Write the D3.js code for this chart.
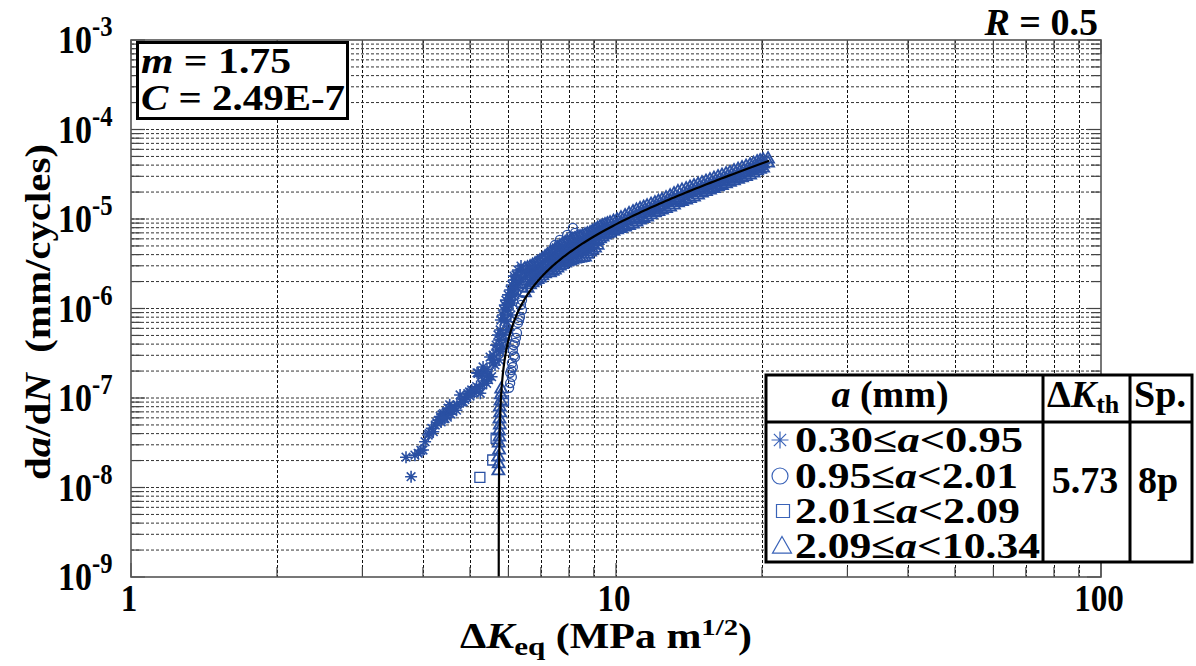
<!DOCTYPE html>
<html><head><meta charset="utf-8">
<script src="https://cdn.jsdelivr.net/npm/d3@7"></script>
<style>
body{margin:0;background:#fff}
svg{display:block}
text{font-family:"Liberation Serif","Times New Roman",serif;font-weight:bold;fill:#000}
</style>
</head><body>
<svg id="chart" width="1196" height="666"></svg>
<script>
// ---------- data ----------
const xTickValues = [1, 10, 100];
const xTickLabels = ["1", "10", "100"];
const yExponents = [-9, -8, -7, -6, -5, -4, -3];
const fitM = 1.75, fitC = 2.49e-7, dKth = 5.73;
const rLabel = "0.5";
const rangeLow = ["0.30", "0.95", "2.01", "2.09"];
const rangeHigh = ["0.95", "2.01", "2.09", "10.34"];
const specimen = "8p";

// 0.30 <= a < 0.95  (asterisk)
const asteriskPts = [
  [3.78,1.32e-8],[3.69,2.18e-8],[3.91,2.41e-8],[4.00,2.62e-8],[4.04,3.25e-8],[4.10,3.86e-8],
  [4.17,4.58e-8],[4.24,4.99e-8],[4.30,5.6e-8],[4.34,6.2e-8],[4.41,6.7e-8],[4.44,5.9e-8],
  [4.51,7.7e-8],[4.54,8.4e-8],[4.47,7.0e-8],[4.38,6.5e-8],[4.60,7.2e-8],[4.69,7.3e-8],
  [4.64,8.0e-8],[4.77,1.08e-7],[4.84,9.1e-8],[4.92,1.03e-7],[4.88,9.6e-8],[5.04,1.23e-7],
  [5.10,1.15e-7],[5.16,1.34e-7],[5.25,1.13e-7],[5.30,1.40e-7],[5.41,1.46e-7],[5.20,1.89e-7],
  [5.37,1.97e-7],[5.54,1.73e-7],[5.46,1.60e-7],[4.57,6.6e-8],[4.49,6.1e-8],[4.36,5.4e-8],
  [4.95,1.12e-7],[5.00,1.05e-7],[4.20,4.2e-8],[4.27,5.3e-8],[4.42,6.0e-8],[4.55,7.4e-8],
  [4.70,8.4e-8],[4.80,9.0e-8],[4.99,1.17e-7],[5.12,1.25e-7],[5.22,1.28e-7],[5.35,1.55e-7],
  [5.44,1.80e-7],[5.28,1.75e-7],[4.12,4.0e-8],[3.96,2.6e-8],[3.85,2.3e-8],
  [5.17,1.91e-7],[5.32,2.22e-7],[5.42,2.06e-7],[5.50,2.87e-7],[5.58,2.46e-7],[5.58,2.66e-7],
  [5.68,3.44e-7],[5.63,2.34e-7],[5.74,2.66e-7],[5.74,4.45e-7],[5.82,3.91e-7],[5.77,5.75e-7],
  [5.85,5.06e-7],[5.79,7.44e-7],[5.90,7.44e-7],[5.85,8.46e-7],[5.96,5.75e-7],[5.87,9.62e-7],
  [5.99,9.62e-7],[5.90,1.09e-6],[5.93,1.24e-6],[6.05,1.24e-6],[5.99,1.42e-6],[6.10,1.42e-6],
  [6.05,1.61e-6],[6.10,1.83e-6],[6.16,2.08e-6],[6.22,2.37e-6],[6.28,2.69e-6],[6.37,2.98e-6],
  [6.16,1.61e-6],[6.25,1.93e-6],[6.34,2.25e-6],[6.43,2.56e-6],
  [5.77,3.30e-7],[5.85,3.60e-7],[5.93,4.45e-7],[6.02,5.75e-7],[5.96,7.10e-7],[6.07,8.46e-7],
  [6.02,1.09e-6],[6.13,1.15e-6],[6.19,1.42e-6],[6.25,1.70e-6],[6.31,2.00e-6],[6.16,2.30e-6],
  [5.58,3.02e-7],[5.66,3.90e-7],[5.71,5.06e-7]
];
// 0.95 <= a < 2.01  (circle)
const circlePts = [
  [6.05,1.91e-7],[6.05,1.47e-7],[6.10,2.46e-7],[6.13,3.44e-7],[6.02,1.30e-7],[6.10,1.72e-7],
  [6.13,2.22e-7],[6.19,2.87e-7],[6.19,4.12e-7],[6.25,5.33e-7],[6.28,6.89e-7],[6.34,8.04e-7],
  [6.40,9.62e-7],[6.40,1.24e-6],[6.43,1.50e-6],[6.43,1.74e-6],[6.49,1.93e-6],[6.55,2.08e-6],
  [6.65,2.08e-6],[6.65,2.50e-6],[6.74,2.69e-6],[6.87,2.25e-6],[6.97,2.69e-6],[6.91,2.91e-6],
  [7.07,3.22e-6],[7.07,2.50e-6],[7.21,3.66e-6],[7.31,3.76e-6],[7.48,5.12e-6],[7.55,4.50e-6],
  [7.78,5.39e-6],[8.04,6.30e-6],[8.15,7.94e-6],[8.23,6.98e-6],[7.93,6.63e-6],[7.66,5.83e-6],
  [6.16,3.0e-7],[6.22,4.7e-7],[6.31,7.4e-7],[6.37,1.1e-6],[6.08,2.05e-7],[6.15,3.9e-7]
];
// 2.01 <= a < 2.09  (square)
const squarePts = [[5.24,1.30e-8],[5.57,2.03e-8],[5.66,3.55e-8],[5.86,9.3e-8]];
// 2.09 <= a < 10.34  (triangle)
const trianglePts = [
  [5.72,1.57e-8],[5.73,1.88e-8],[5.72,2.25e-8],[5.74,2.69e-8],[5.73,3.22e-8],[5.75,3.76e-8],
  [5.74,4.39e-8],[5.76,5.12e-8],[5.75,5.98e-8],[5.77,6.98e-8],[5.76,8.14e-8],[5.78,9.50e-8],
  [5.79,1.11e-7],[5.80,1.29e-7],
  [6.49,2.83e-6],[6.49,2.08e-6],[6.49,1.53e-6],
  [6.57,2.90e-6],[6.57,2.25e-6],[6.57,1.72e-6],
  [6.65,2.98e-6],[6.65,2.37e-6],[6.65,1.88e-6],
  [6.73,3.10e-6],[6.73,2.50e-6],[6.73,1.98e-6],
  [6.81,3.22e-6],[6.81,2.62e-6],[6.81,2.08e-6],
  [6.89,3.35e-6],[6.89,2.72e-6],[6.89,2.16e-6],
  [6.97,3.48e-6],[6.97,2.83e-6],[6.97,2.25e-6],
  [7.05,3.67e-6],[7.05,2.98e-6],[7.05,2.37e-6],
  [7.14,3.86e-6],[7.14,3.14e-6],[7.14,2.50e-6],
  [7.22,4.07e-6],[7.22,3.30e-6],[7.22,2.70e-6],
  [7.31,4.28e-6],[7.31,3.48e-6],[7.31,2.91e-6],[7.31,2.56e-6],
  [7.40,4.45e-6],[7.40,3.67e-6],[7.40,3.05e-6],[7.40,2.66e-6],
  [7.48,4.62e-6],[7.48,3.86e-6],[7.48,3.22e-6],[7.48,2.76e-6],
  [7.57,4.87e-6],[7.57,4.07e-6],[7.57,3.39e-6],[7.57,2.90e-6],
  [7.66,5.12e-6],[7.66,4.28e-6],[7.66,3.57e-6],[7.66,3.06e-6],
  [7.75,5.33e-6],[7.75,4.45e-6],[7.75,3.70e-6],[7.75,3.18e-6],
  [7.85,5.54e-6],[7.85,4.62e-6],[7.85,3.86e-6],[7.85,3.31e-6],
  [7.94,5.68e-6],[7.94,4.74e-6],[7.94,3.96e-6],[7.94,3.40e-6],
  [8.04,5.83e-6],[8.04,4.86e-6],[8.04,4.06e-6],[8.04,3.48e-6],
  [8.13,5.98e-6],[8.13,4.99e-6],[8.13,4.17e-6],[8.13,3.57e-6],
  [8.23,6.14e-6],[8.23,5.12e-6],[8.23,4.28e-6],[8.23,3.66e-6],
  [8.33,6.30e-6],[8.33,5.25e-6],[8.33,4.39e-6],[8.33,3.71e-6],
  [8.43,6.46e-6],[8.43,5.39e-6],[8.43,4.50e-6],[8.43,3.76e-6],
  [8.53,6.63e-6],[8.53,5.53e-6],[8.53,4.62e-6],[8.53,3.81e-6],
  [8.63,6.80e-6],[8.63,5.68e-6],[8.63,4.74e-6],[8.63,3.86e-6],
  [8.73,6.98e-6],[8.73,5.90e-6],[8.73,4.93e-6],[8.73,4.12e-6],
  [8.84,7.16e-6],[8.84,6.14e-6],[8.84,5.12e-6],[8.84,4.39e-6],
  [8.94,7.45e-6],[8.94,6.38e-6],[8.94,5.39e-6],[8.94,4.62e-6],
  [9.05,7.74e-6],[9.05,6.63e-6],[9.05,5.68e-6],[9.05,4.86e-6],
  [9.16,8.04e-6],[9.16,6.89e-6],[9.16,5.90e-6],[9.16,5.20e-6],
  [9.27,8.35e-6],[9.27,7.16e-6],[9.27,6.14e-6],
  [9.38,8.57e-6],[9.38,7.45e-6],[9.38,6.46e-6],
  [9.49,8.79e-6],[9.49,7.74e-6],[9.49,6.80e-6],
  [9.60,9.02e-6],[9.60,7.94e-6],[9.60,6.98e-6],
  [9.72,9.26e-6],[9.72,8.14e-6],[9.72,7.16e-6],
  [9.88,9.63e-6],[9.88,8.46e-6],[9.88,7.45e-6],
  [10.05,1.00e-5],[10.05,8.79e-6],[10.05,7.74e-6],
  [10.24,1.05e-5],[10.24,9.26e-6],[10.24,8.04e-6],
  [10.44,1.11e-5],[10.44,9.75e-6],[10.44,8.35e-6],
  [10.64,1.17e-5],[10.64,1.01e-5],[10.64,8.68e-6],
  [10.84,1.23e-5],[10.84,1.05e-5],[10.84,9.02e-6],
  [11.02,1.28e-5],[11.02,1.11e-5],[11.02,9.50e-6],
  [11.21,1.33e-5],[11.21,1.17e-5],[11.21,1.00e-5],
  [11.40,1.38e-5],[11.40,1.21e-5],[11.40,1.04e-5],
  [11.59,1.43e-5],[11.59,1.26e-5],[11.59,1.08e-5],
  [11.81,1.49e-5],[11.81,1.31e-5],[11.81,1.14e-5],
  [12.03,1.55e-5],[12.03,1.36e-5],[12.03,1.20e-5],
  [12.23,1.61e-5],[12.23,1.41e-5],[12.23,1.24e-5],
  [12.44,1.67e-5],[12.44,1.47e-5],[12.44,1.29e-5],
  [12.68,1.76e-5],[12.68,1.55e-5],[12.68,1.34e-5],
  [12.93,1.85e-5],[12.93,1.63e-5],[12.93,1.39e-5],
  [13.17,1.95e-5],[13.17,1.69e-5],[13.17,1.47e-5],
  [13.42,2.06e-5],[13.42,1.76e-5],[13.42,1.55e-5],
  [13.68,2.14e-5],[13.68,1.85e-5],[13.68,1.61e-5],
  [13.95,2.22e-5],[13.95,1.95e-5],[13.95,1.67e-5],
  [14.21,2.31e-5],[14.21,2.03e-5],[14.21,1.73e-5],
  [14.48,2.40e-5],[14.48,2.11e-5],[14.48,1.80e-5],
  [14.76,2.49e-5],[14.76,2.19e-5],[14.76,1.90e-5],
  [15.04,2.59e-5],[15.04,2.28e-5],[15.04,2.00e-5],
  [15.33,2.69e-5],[15.33,2.37e-5],[15.33,2.08e-5],
  [15.62,2.80e-5],[15.62,2.46e-5],[15.62,2.16e-5],
  [15.92,2.91e-5],[15.92,2.56e-5],[15.92,2.25e-5],
  [16.23,3.02e-5],[16.23,2.66e-5],[16.23,2.34e-5],
  [16.54,3.14e-5],[16.54,2.76e-5],[16.54,2.43e-5],
  [16.86,3.26e-5],[16.86,2.87e-5],[16.86,2.53e-5],
  [17.18,3.39e-5],[17.18,2.98e-5],[17.18,2.63e-5],
  [17.51,3.53e-5],[17.51,3.10e-5],[17.51,2.73e-5],
  [17.85,3.67e-5],[17.85,3.22e-5],[17.85,2.84e-5],
  [18.19,3.81e-5],[18.19,3.35e-5],[18.19,2.95e-5],
  [18.54,3.96e-5],[18.54,3.48e-5],[18.54,3.06e-5],
  [18.90,4.11e-5],[18.90,3.62e-5],[18.90,3.18e-5],
  [19.22,4.27e-5],[19.22,3.76e-5],[19.22,3.35e-5],
  [19.54,4.44e-5],[19.54,3.91e-5],[19.54,3.53e-5],
  [19.82,4.56e-5],[19.82,4.06e-5],[19.82,3.67e-5],
  [20.10,4.68e-5],[20.10,4.22e-5],[20.10,3.81e-5],
  [20.58,4.80e-5],[20.58,4.33e-5]
];
const fitKmax = 20.7;

// ---------- layout ----------
const svg = d3.select("#chart");
const L = 131, R = 1101, T = 40, B = 577;
const x = d3.scaleLog().domain([1, 100]).range([L, R]);
const y = d3.scaleLog().domain([1e-9, 1e-3]).range([B, T]);
const blue = "#2a50a3";

svg.append("defs").append("clipPath").attr("id", "clip")
  .append("rect").attr("x", L).attr("y", T).attr("width", R - L).attr("height", B - T);

const xGrid = [];
for (let d = 1; d <= 10; d *= 10) for (let k = 1; k <= 9; k++) xGrid.push(k * d);
xGrid.push(100);
const yGrid = [];
for (let e = -9; e < -3; e++) for (let k = 1; k <= 9; k++) yGrid.push(k * Math.pow(10, e));
yGrid.push(1e-3);

const grid = svg.append("g").attr("stroke", "#111").attr("stroke-width", 1).attr("stroke-dasharray", "3,2");
grid.selectAll(".gx").data(xGrid.filter(v => v > 1 && v < 100)).join("line")
  .attr("x1", d => Math.round(x(d)) + 0.5).attr("x2", d => Math.round(x(d)) + 0.5)
  .attr("y1", T).attr("y2", B);
grid.selectAll(".gy").data(yGrid.filter(v => v > 1.0001e-9 && v < 0.9999e-3)).join("line")
  .attr("y1", d => y(d)).attr("y2", d => y(d))
  .attr("x1", L).attr("x2", R).attr("stroke", "#333");

const ticks = svg.append("g").attr("stroke", "#444").attr("stroke-width", 1.2);
xGrid.forEach(v => {
  const len = [1, 10, 100].includes(v) ? 14 : 10;
  const px = x(v);
  ticks.append("line").attr("x1", px).attr("x2", px).attr("y1", B).attr("y2", B - len);
  ticks.append("line").attr("x1", px).attr("x2", px).attr("y1", T).attr("y2", T + len);
});
yGrid.forEach(v => {
  const len = Math.abs(Math.log10(v) - Math.round(Math.log10(v))) < 1e-6 ? 14 : 10;
  const py = y(v);
  ticks.append("line").attr("x1", L).attr("x2", L + len).attr("y1", py).attr("y2", py);
  ticks.append("line").attr("x1", R).attr("x2", R - len).attr("y1", py).attr("y2", py);
});

const sym = {
  asterisk: r => { const d = r * 0.72; return `M0,${-r}V${r}M${-r},0H${r}M${-d},${-d}L${d},${d}M${-d},${d}L${d},${-d}`; },
  circle: r => `M${r},0A${r},${r} 0 1,1 ${-r},0A${r},${r} 0 1,1 ${r},0Z`,
  square: r => `M${-r},${-r}H${r}V${r}H${-r}Z`,
  triangle: r => `M0,${-r}L${r},${r * 0.75}L${-r},${r * 0.75}Z`
};
const plot = svg.append("g").attr("clip-path", "url(#clip)");
function drawSeries(pts, shape, r, sw) {
  plot.append("g").selectAll("path").data(pts).join("path")
    .attr("d", sym[shape](r))
    .attr("transform", d => `translate(${x(d[0])},${y(d[1])})`)
    .attr("fill", "none").attr("stroke", blue).attr("stroke-width", sw);
}
drawSeries(asteriskPts, "asterisk", 6, 1.6);
drawSeries(circlePts, "circle", 4.5, 1.3);
drawSeries(squarePts, "square", 5, 1.3);
drawSeries(trianglePts, "triangle", 6, 1.8);

// fitted curve da/dN = C (dK^m - dKth^m)
const fitK = [];
for (let i = 0; i <= 600; i++) {
  const t = i / 600;
  fitK.push(dKth + Math.pow(10, -6 + t * (Math.log10(fitKmax - dKth) + 6)));
}
const fitLine = d3.line().x(d => x(d)).y(d => y(Math.max(1e-12, fitC * (Math.pow(d, fitM) - Math.pow(dKth, fitM)))));
plot.append("path").datum(fitK).attr("d", fitLine).attr("fill", "none").attr("stroke", "#000").attr("stroke-width", 2.2);

svg.append("rect").attr("x", L).attr("y", T).attr("width", R - L).attr("height", B - T)
  .attr("fill", "none").attr("stroke", "#555").attr("stroke-width", 1.6);

yExponents.forEach(e => {
  const g = svg.append("g").attr("transform", `translate(58,${y(Math.pow(10, e)) + 13}) scale(0.85,1)`);
  const t = g.append("text").attr("font-size", 40);
  t.append("tspan").text("10");
  t.append("tspan").attr("font-size", 29).attr("dy", -17).text(String(e));
});
xTickValues.forEach((v, i) => {
  svg.append("g").attr("transform", `translate(${x(v) - 2},611) scale(0.85,1)`)
    .append("text").attr("font-size", 39).attr("text-anchor", "middle").text(xTickLabels[i]);
});

const xt = svg.append("text").attr("x", 606).attr("y", 648).attr("font-size", 35).attr("text-anchor", "middle")
  .attr("textLength", 292).attr("lengthAdjust", "spacingAndGlyphs");
xt.append("tspan").text("Δ");
xt.append("tspan").attr("font-style", "italic").text("K");
xt.append("tspan").attr("font-size", 26).attr("dy", 7).text("eq");
xt.append("tspan").attr("dy", -7).text(" (MPa m");
xt.append("tspan").attr("font-size", 24).attr("dy", -13).text("1/2");
xt.append("tspan").attr("dy", 13).text(")");

const yt = svg.append("text").attr("transform", "translate(50,312) rotate(-90)").attr("font-size", 36)
  .attr("text-anchor", "middle").attr("textLength", 336).attr("lengthAdjust", "spacingAndGlyphs");
yt.append("tspan").text("d");
yt.append("tspan").attr("font-style", "italic").text("a");
yt.append("tspan").text("/d");
yt.append("tspan").attr("font-style", "italic").text("N");
yt.append("tspan").text("\u00a0\u00a0(mm/cycles)");

const rt = svg.append("text").attr("x", 1098).attr("y", 35).attr("font-size", 38).attr("text-anchor", "end");
rt.append("tspan").attr("font-style", "italic").text("R");
rt.append("tspan").text(" = " + rLabel);

svg.append("rect").attr("x", 137.5).attr("y", 42.5).attr("width", 210).attr("height", 76)
  .attr("fill", "#fff").attr("stroke", "#000").attr("stroke-width", 3);
const m1 = svg.append("text").attr("x", 141).attr("y", 73).attr("font-size", 35)
  .attr("textLength", 150).attr("lengthAdjust", "spacingAndGlyphs");
m1.append("tspan").attr("font-style", "italic").text("m");
m1.append("tspan").text(" = " + fitM.toFixed(2));
const c1 = svg.append("text").attr("x", 141).attr("y", 110).attr("font-size", 36)
  .attr("textLength", 204).attr("lengthAdjust", "spacingAndGlyphs");
c1.append("tspan").attr("font-style", "italic").text("C");
c1.append("tspan").text(" = 2.49E-7");

const tb = svg.append("g");
const tx0 = 766, tx1 = 1192, ty0 = 375, ty1 = 562, c1x = 1043, c2x = 1130, hy = 422;
tb.append("rect").attr("x", tx0).attr("y", ty0).attr("width", tx1 - tx0).attr("height", ty1 - ty0)
  .attr("fill", "#fff").attr("stroke", "#000").attr("stroke-width", 3);
tb.append("line").attr("x1", tx0).attr("x2", tx1).attr("y1", hy).attr("y2", hy).attr("stroke", "#000").attr("stroke-width", 3);
tb.append("line").attr("x1", c1x).attr("x2", c1x).attr("y1", ty0).attr("y2", ty1).attr("stroke", "#000").attr("stroke-width", 3);
tb.append("line").attr("x1", c2x).attr("x2", c2x).attr("y1", ty0).attr("y2", ty1).attr("stroke", "#000").attr("stroke-width", 3);

const h1 = tb.append("text").attr("x", 890).attr("y", 407).attr("font-size", 38).attr("text-anchor", "middle");
h1.append("tspan").attr("font-style", "italic").text("a");
h1.append("tspan").text(" (mm)");
const h2 = tb.append("text").attr("x", 1047).attr("y", 407).attr("font-size", 38);
h2.append("tspan").text("Δ");
h2.append("tspan").attr("font-style", "italic").text("K");
h2.append("tspan").attr("font-size", 26).attr("dy", 6).text("th");
tb.append("text").attr("x", 1160).attr("y", 407).attr("font-size", 38).attr("text-anchor", "middle").text("Sp.");

const rowBase = [452, 488, 523, 558];
const rowLen = [228, 223, 225, 245];
const shapes = ["asterisk", "circle", "square", "triangle"];
const symR = [8.5, 8, 6.5, 9.5];
const symX = [780, 780, 783, 782];
rowBase.forEach((b, i) => {
  const t = tb.append("text").attr("x", 795).attr("y", b).attr("font-size", 36)
    .attr("textLength", rowLen[i]).attr("lengthAdjust", "spacingAndGlyphs");
  t.append("tspan").text(rangeLow[i] + "≤");
  t.append("tspan").attr("font-style", "italic").text("a");
  t.append("tspan").text("<" + rangeHigh[i]);
  tb.append("path").attr("d", sym[shapes[i]](symR[i]))
    .attr("transform", `translate(${symX[i]},${b - 12})`)
    .attr("fill", "none").attr("stroke", "#3a63b8").attr("stroke-width", 1.2);
});
tb.append("text").attr("x", 1085).attr("y", 493).attr("font-size", 38).attr("text-anchor", "middle").text(dKth.toFixed(2));
tb.append("text").attr("x", 1158).attr("y", 493).attr("font-size", 38).attr("text-anchor", "middle").text(specimen);
</script>
</body></html>
